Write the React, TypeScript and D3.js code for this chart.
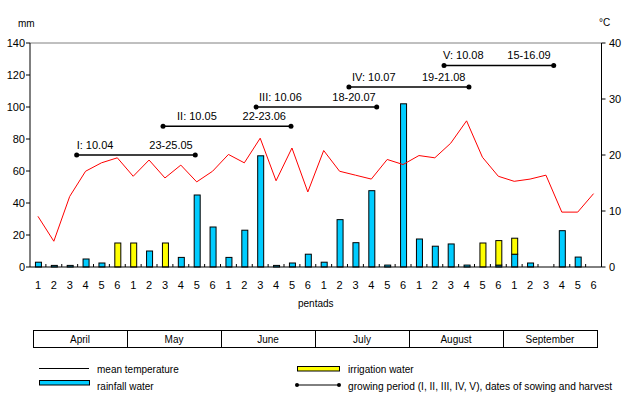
import React, { useEffect, useRef } from 'react';
import * as d3 from 'd3';

const months = ['April', 'May', 'June', 'July', 'August', 'September'];
const pentads = ['1', '2', '3', '4', '5', '6'];
const mmTicks = [0, 20, 40, 60, 80, 100, 120, 140];
const tempTicks = [0, 10, 20, 30, 40];

// mm per pentad
const rainfall = [3, 1, 1, 5, 2.5, 0, 0, 10, 0, 6, 45, 25, 6, 23, 69.5, 1, 2.5, 8, 3, 29.6, 15.2, 47.7, 1.2, 102, 17.5, 13, 14.4, 1.2, 0, 1.2, 8, 2.5, 0, 22.7, 6.2, 0];
const irrigation = [0, 0, 0, 0, 0, 15, 15, 0, 15, 0, 0, 0, 0, 0, 0, 0, 0, 0, 0, 0, 0, 0, 0, 0, 0, 0, 0, 0, 15, 15.3, 10, 0, 0, 0, 0, 0];
// °C per pentad
const temperature = [9.05, 4.6, 12.6, 17.1, 18.6, 19.5, 16.2, 19.1, 15.9, 18.2, 15.2, 17.1, 20.1, 18.6, 23.0, 15.4, 21.25, 13.4, 20.8, 17.1, 16.4, 15.7, 19.2, 18.3, 19.9, 19.5, 22.1, 26.1, 19.6, 16.2, 15.3, 15.7, 16.4, 9.8, 9.8, 13.1];

// growing periods: start / end in pentads from 1 April, drawn at a level in mm
const periodNames = ['I', 'II', 'III', 'IV', 'V'];
const sowing = ['10.04', '10.05', '10.06', '10.07', '10.08'];
const harvest = ['23-25.05', '22-23.06', '18-20.07', '19-21.08', '15-16.09'];
const periodStart = [2.94, 8.38, 14.24, 20.09, 26.08];
const periodEnd = [10.41, 16.44, 21.84, 27.65, 32.99];
const periodLevel = [70, 88, 100, 112.5, 126];

const FONT = "Arial, 'Liberation Sans', sans-serif";

const App: React.FC = () => {
  const svgRef = useRef<SVGSVGElement>(null);

  useEffect(() => {
    document.body.style.margin = '0';
    if (!svgRef.current) return;
    const svg = d3.select(svgRef.current);
    svg.selectAll('*').remove();

    const left = 30, right = 601.5, top = 43, bottom = 267;
    const n = rainfall.length;
    const idx = d3.range(n);

    const x = d3.scaleLinear().domain([0, n]).range([left, right]);
    const band = d3.scaleBand<number>().domain(idx).range([left, right]);
    const yMm = d3.scaleLinear().domain([0, 140]).range([bottom, top]);
    const yT = d3.scaleLinear().domain([0, 40]).range([bottom, top]);
    const barW = 6;

    // top border
    svg.append('line').attr('x1', left).attr('x2', right).attr('y1', top).attr('y2', top)
      .attr('stroke', '#808080');

    // bars: rainfall, irrigation stacked on top
    const cx = (i: number) => (band(i) as number) + band.bandwidth() / 2;
    svg.append('g').selectAll('rect').data(idx.filter(i => rainfall[i] > 0)).join('rect')
      .attr('x', i => cx(i) - barW / 2 + 0.5)
      .attr('y', i => yMm(rainfall[i]))
      .attr('width', barW)
      .attr('height', i => yMm(0) - yMm(rainfall[i]))
      .attr('fill', '#00ccff').attr('stroke', '#000').attr('stroke-width', 1);
    svg.append('g').selectAll('rect').data(idx.filter(i => irrigation[i] > 0)).join('rect')
      .attr('x', i => cx(i) - barW / 2 + 0.5)
      .attr('y', i => yMm(rainfall[i] + irrigation[i]))
      .attr('width', barW)
      .attr('height', i => yMm(rainfall[i]) - yMm(rainfall[i] + irrigation[i]))
      .attr('fill', '#ffff00').attr('stroke', '#000').attr('stroke-width', 1);

    // temperature line
    const line = d3.line<number>().x((_, i) => cx(i)).y(d => yT(d));
    svg.append('path').datum(temperature).attr('d', line)
      .attr('fill', 'none').attr('stroke', '#ff0000').attr('stroke-width', 1);

    // growing periods
    const labelDx = [0, 14, 3, 3, -1];
    const labelEndDx = [2.5, 5, 1, 3.5, 3];
    periodNames.forEach((name, i) => {
      const g = svg.append('g');
      const x1 = x(periodStart[i]), x2 = x(periodEnd[i]), yy = yMm(periodLevel[i]);
      g.append('line').attr('x1', x1).attr('x2', x2).attr('y1', yy).attr('y2', yy)
        .attr('stroke', '#000').attr('stroke-width', 1.5);
      [x1, x2].forEach(px => g.append('circle').attr('cx', px).attr('cy', yy).attr('r', 2.5).attr('fill', '#000'));
      g.append('text').attr('x', x1 + labelDx[i]).attr('y', yy - 6)
        .attr('font-size', 11).text(`${name}: ${sowing[i]}`);
      g.append('text').attr('x', x2 - labelEndDx[i]).attr('y', yy - 6)
        .attr('text-anchor', 'end').attr('font-size', 11).text(harvest[i]);
    });

    // axes
    const ax = svg.append('g').attr('stroke', '#000').attr('stroke-width', 1);
    ax.append('line').attr('x1', left).attr('x2', left).attr('y1', top).attr('y2', bottom);
    ax.append('line').attr('x1', right).attr('x2', right).attr('y1', top).attr('y2', bottom);
    ax.append('line').attr('x1', left).attr('x2', right).attr('y1', bottom).attr('y2', bottom);
    ax.selectAll('.lt').data(mmTicks).join('line').attr('class', 'lt')
      .attr('x1', left - 4).attr('x2', left).attr('y1', d => yMm(d)).attr('y2', d => yMm(d));
    ax.selectAll('.rt').data(tempTicks).join('line').attr('class', 'rt')
      .attr('x1', right).attr('x2', right + 4).attr('y1', d => yT(d)).attr('y2', d => yT(d));
    ax.selectAll('.xt').data(d3.range(1, n)).join('line').attr('class', 'xt')
      .attr('x1', d => x(d)).attr('x2', d => x(d)).attr('y1', bottom).attr('y2', bottom - 3);

    const txt = svg.append('g').attr('font-size', 11).attr('fill', '#000');
    txt.selectAll('.ll').data(mmTicks).join('text').attr('class', 'll')
      .attr('x', 25).attr('y', d => yMm(d) + 4).attr('text-anchor', 'end').text(d => d);
    txt.selectAll('.rl').data(tempTicks).join('text').attr('class', 'rl')
      .attr('x', 609).attr('y', d => yT(d) + 4).text(d => d);
    txt.selectAll('.xl').data(idx).join('text').attr('class', 'xl')
      .attr('x', i => cx(i)).attr('y', 289).attr('text-anchor', 'middle')
      .text(i => pentads[i % pentads.length]);
    txt.append('text').attr('x', 18).attr('y', 27).attr('font-size', 10).text('mm');
    txt.append('text').attr('x', 599).attr('y', 26).attr('font-size', 10).text('°C');
    txt.append('text').attr('x', (left + right) / 2).attr('y', 307)
      .attr('text-anchor', 'middle').attr('font-size', 10).text('pentads');

    // month strip
    const mBand = d3.scaleBand<string>().domain(months).range([33, 597]);
    const mg = svg.append('g');
    mg.selectAll('rect').data(months).join('rect')
      .attr('x', d => (mBand(d) as number) + 0.5).attr('y', 330.5)
      .attr('width', mBand.bandwidth()).attr('height', 17)
      .attr('fill', 'none').attr('stroke', '#000');
    mg.selectAll('text').data(months).join('text')
      .attr('x', d => (mBand(d) as number) + mBand.bandwidth() / 2).attr('y', 343)
      .attr('text-anchor', 'middle').attr('font-size', 10).text(d => d);

    // legend
    const lg = svg.append('g').attr('font-size', 10);
    lg.append('line').attr('x1', 39).attr('x2', 89).attr('y1', 368.5).attr('y2', 368.5).attr('stroke', '#000');
    lg.append('text').attr('x', 97).attr('y', 372.5).text('mean temperature');
    lg.append('rect').attr('x', 39.5).attr('y', 380.5).attr('width', 50).attr('height', 4.5)
      .attr('fill', '#00ccff').attr('stroke', '#000');
    lg.append('text').attr('x', 97).attr('y', 389.5).text('rainfall water');
    lg.append('rect').attr('x', 297.5).attr('y', 366.5).attr('width', 42).attr('height', 4.5)
      .attr('fill', '#ffff00').attr('stroke', '#000');
    lg.append('text').attr('x', 348).attr('y', 372.5).text('irrigation water');
    lg.append('line').attr('x1', 297).attr('x2', 339).attr('y1', 385).attr('y2', 385).attr('stroke', '#000');
    [297, 339].forEach(px => lg.append('circle').attr('cx', px).attr('cy', 385).attr('r', 2).attr('fill', '#000'));
    lg.append('text').attr('x', 348).attr('y', 389.5).attr('font-size', 10.2)
      .text('growing period (I, II, III, IV, V), dates of sowing and harvest');
  }, []);

  return (
    <div style={{ position: 'absolute', left: 0, top: 0 }}>
      <svg ref={svgRef} width={638} height={393} style={{ display: 'block', fontFamily: FONT, background: '#fff' }} />
    </div>
  );
};

export default App;
